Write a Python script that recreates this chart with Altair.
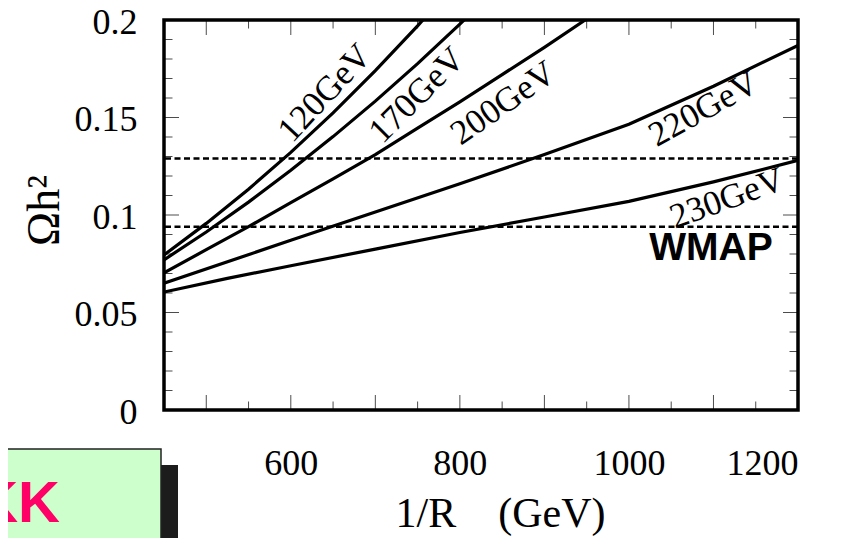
import altair as alt
import pandas as pd

# ---- data ----
r120_x = [450, 500, 550, 600, 650, 700, 750, 800]
r120_y = [0.0795, 0.0957, 0.1132, 0.1321, 0.1524, 0.1740, 0.1970, 0.2213]
r170_x = [450, 500, 550, 600, 650, 700, 750, 800, 850]
r170_y = [0.077, 0.0913, 0.1066, 0.1229, 0.1402, 0.1584, 0.1776, 0.1979, 0.2191]
r200_x = [450, 500, 550, 600, 650, 700, 750, 800, 850, 900, 950, 1000]
r200_y = [0.0704, 0.0822, 0.094, 0.1063, 0.1185, 0.131, 0.1445, 0.158, 0.172, 0.186, 0.2005, 0.215]
r220_x = [450, 600, 800, 900, 1000, 1100, 1200]
r220_y = [0.065, 0.087, 0.116, 0.131, 0.1465, 0.166, 0.187]
r230_x = [450, 525, 600, 700, 800, 900, 1000, 1100, 1200]
r230_y = [0.0605, 0.0675, 0.074, 0.0825, 0.091, 0.099, 0.107, 0.117, 0.128]

curve_names = ["120GeV", "170GeV", "200GeV", "220GeV", "230GeV"]
label_x = [640, 749, 851, 1088, 1116]
label_y = [0.1626, 0.1615, 0.1574, 0.1544, 0.1086]
label_angle = [313, 315, 325, 331, 340]

wmap_bounds = [0.094, 0.129]
wmap_label = "WMAP"
wmap_pos = [1097, 0.0829]

x_tick_labels = [600, 800, 1000, 1200]
y_tick_labels = [0, 0.05, 0.1, 0.15, 0.2]
x_major = [500, 600, 700, 800, 900, 1000, 1100]
x_minor = [550, 650, 750, 850, 950, 1050, 1150]
y_major = [0.05, 0.1, 0.15]
y_minor = [0.01, 0.02, 0.03, 0.04, 0.06, 0.07, 0.08, 0.09,
           0.11, 0.12, 0.13, 0.14, 0.16, 0.17, 0.18, 0.19]

XDOM = [450, 1200]
YDOM = [0, 0.2]

# ---- tables ----
rows = []
for name, xs, ys in zip(curve_names,
                        [r120_x, r170_x, r200_x, r220_x, r230_x],
                        [r120_y, r170_y, r200_y, r220_y, r230_y]):
    for a, b in zip(xs, ys):
        rows.append({"curve": name, "x": a, "y": b})
curves = pd.DataFrame(rows)
labels = pd.DataFrame({"t": curve_names, "x": label_x, "y": label_y, "ang": label_angle})
wmap = pd.DataFrame({"y": wmap_bounds})
xt = pd.DataFrame({"x": x_major + x_minor,
                   "len": [30] * len(x_major) + [17] * len(x_minor)})
yt = pd.DataFrame({"y": y_major + y_minor,
                   "len": [30] * len(y_major) + [17] * len(y_minor)})
one = pd.DataFrame({"a": [0]})

SERIF = "Liberation Serif"
xscale = alt.Scale(domain=XDOM, nice=False, zero=False)
yscale = alt.Scale(domain=YDOM, nice=False, zero=False)

xaxis = alt.Axis(values=x_tick_labels, format="d", title="1/R\u2003(GeV)",
                 ticks=False, tickSize=0, domain=False, grid=False,
                 labelFont=SERIF, labelFontSize=36, labelPadding=36, labelColor="black",
                 titleFont=SERIF, titleFontSize=42, titleFontWeight="normal",
                 titleColor="black", titleX=336, titleY=116, titleBaseline="alphabetic")
yaxis = alt.Axis(values=y_tick_labels, format="~g", title="Ωh²",
                 ticks=False, tickSize=0, domain=False, grid=False,
                 labelFont=SERIF, labelFontSize=36, labelPadding=27, labelColor="black",
                 labelOffset=2,
                 titleFont=SERIF, titleFontSize=46, titleFontWeight="normal",
                 titleColor="black", titleX=-106, titleY=190, titleAngle=270,
                 titleBaseline="alphabetic", titleAlign="center")

X = lambda: alt.X("x:Q", scale=xscale, axis=xaxis, title="1/R\u2003(GeV)")
Y = lambda: alt.Y("y:Q", scale=yscale, axis=yaxis, title="Ωh²")

lines = alt.Chart(curves).mark_line(clip=True, strokeWidth=3.2, color="black").encode(
    x=X(), y=Y(), detail="curve:N",
)

dashed = alt.Chart(wmap).mark_rule(strokeDash=[6, 3.5], strokeWidth=2.6, color="black").encode(
    y=Y()
)

texts = alt.Chart(labels).mark_text(font=SERIF, fontSize=35, color="black",
                                    align="center", baseline="middle").encode(
    x=X(), y=Y(), text="t:N",
    angle=alt.Angle("ang:Q", scale=None),
)

wmap_text = alt.Chart(pd.DataFrame({"t": [wmap_label], "x": [wmap_pos[0]], "y": [wmap_pos[1]]})).mark_text(
    font="Liberation Sans", fontWeight="bold", fontSize=39, color="black",
    align="center", baseline="middle").encode(
    x=X(), y=Y(), text="t:N",
)

xt_bottom = xt.assign(y=YDOM[0])
xt_top = xt.assign(y=YDOM[1])
yt_left = yt.assign(x=XDOM[0])
yt_right = yt.assign(x=XDOM[1])

tick_x = alt.Chart(pd.concat([xt_bottom, xt_top])).mark_tick(
    orient="vertical", clip=True, thickness=1, color="black").encode(
    x=X(), y=Y(), size=alt.Size("len:Q", scale=None),
)
tick_y = alt.Chart(pd.concat([yt_left, yt_right])).mark_tick(
    orient="horizontal", clip=True, thickness=1, color="black").encode(
    x=X(), y=Y(), size=alt.Size("len:Q", scale=None),
)

# decorative slide box at the bottom-left
shadow = alt.Chart(one).mark_rect(color="#1c1c1c").encode(
    x=alt.value(-3), x2=alt.value(14), y=alt.value(445), y2=alt.value(540))
box = alt.Chart(one).mark_rect(fill="#ccffcc", stroke="#222222", strokeWidth=1.5).encode(
    x=alt.value(-175), x2=alt.value(-3), y=alt.value(429), y2=alt.value(560))
kk = alt.Chart(pd.DataFrame({"t": ["KK"]})).mark_text(
    font="Liberation Sans", fontWeight="bold", fontSize=58, color="#ff0066",
    align="right", baseline="alphabetic").encode(
    x=alt.value(-104), y=alt.value(502), text="t:N")

chart = alt.layer(
    lines, dashed, texts, wmap_text, tick_x, tick_y,
    shadow, box, kk
).properties(
    width=634, height=390,
    padding={"left": 156, "top": 12, "right": 34, "bottom": 128},
    autosize=alt.AutoSizeParams(type="none"),
    background="white",
).configure_view(stroke="black", strokeWidth=3.5)

chart.save("out.html", embed_options={"renderer": "svg", "actions": False})
